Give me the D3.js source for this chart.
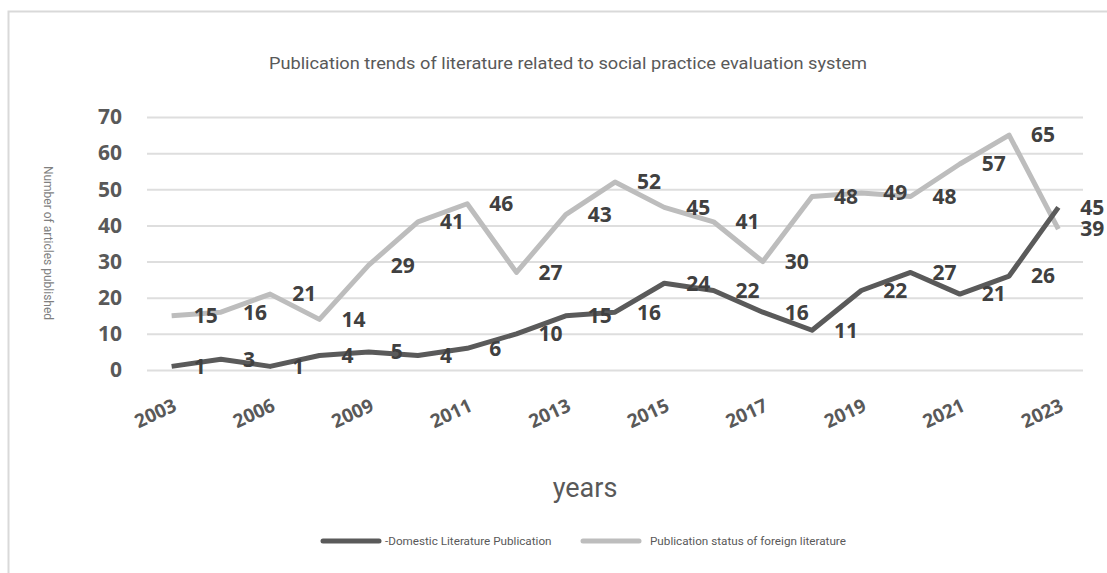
<!DOCTYPE html>
<html>
<head>
<meta charset="utf-8">
<script src="https://cdn.jsdelivr.net/npm/d3@7"></script>
<style>
  body { margin: 0; background: #fff; }
  svg { display: block; }
</style>
</head>
<body>
<svg class="svg-canvas" width="1107" height="573"></svg>
<script>
var years = ["2003", "2004", "2006", "2007", "2009", "2010", "2011", "2012", "2013", "2014",
  "2015", "2016", "2017", "2018", "2019", "2020", "2021", "2022", "2023"];
var domestic = [1, 3, 1, 4, 5, 4, 6, 10, 15, 16, 24, 22, 16, 11, 22, 27, 21, 26, 45];
var foreign = [15, 16, 21, 14, 29, 41, 46, 27, 43, 52, 45, 41, 30, 48, 49, 48, 57, 65, 39];
var yTicks = [0, 10, 20, 30, 40, 50, 60, 70];
var shownYears = ["2003", "2006", "2009", "2011", "2013", "2015", "2017", "2019", "2021", "2023"];

var series = [
  { name: "Publication status of foreign literature", values: foreign, color: "#bdbdbd" },
  { name: "-Domestic Literature Publication", values: domestic, color: "#5a5a5a" }
];

var svg = d3.select(".svg-canvas");
var width = parseInt(svg.attr("width"));
var height = parseInt(svg.attr("height"));

// chart frame
svg.append("rect")
  .attr("x", 8.5).attr("y", 11.5)
  .attr("width", width + 10).attr("height", height + 10)
  .attr("fill", "none").attr("stroke", "#d9d9d9").attr("stroke-width", 2);

var x = d3.scalePoint().domain(years).range([147, 1083]).padding(0.5);
var y = d3.scaleLinear().domain([0, 70]).range([370, 117]);

svg.append("text")
  .attr("x", 568).attr("y", 69)
  .attr("text-anchor", "middle")
  .attr("textLength", 598).attr("lengthAdjust", "spacingAndGlyphs")
  .style("font-family", "Roboto, sans-serif").style("font-size", "16px")
  .attr("fill", "#595959")
  .text("Publication trends of literature related to social practice evaluation system");

// gridlines + y labels
var yAxis = d3.axisLeft(y).tickValues(yTicks).tickSize(-(1083 - 147)).tickPadding(25);
var gy = svg.append("g").attr("transform", "translate(147,0)").call(yAxis);
gy.select(".domain").remove();
gy.selectAll(".tick line").attr("stroke", "#dedede").attr("stroke-width", 2);
gy.selectAll(".tick text")
  .style("font-family", "'Open Sans', sans-serif").style("font-size", "21px").style("font-weight", "bold")
  .attr("fill", "#595959");

// x labels, every other year
var xAxis = d3.axisBottom(x).tickValues(shownYears).tickSize(0);
var gx = svg.append("g").attr("transform", "translate(0,370)").call(xAxis);
gx.select(".domain").remove();
gx.selectAll(".tick text")
  .attr("x", null).attr("y", null)
  .attr("dy", "0.35em")
  .attr("text-anchor", "end")
  .attr("transform", "translate(3,34) rotate(-25)")
  .style("font-family", "'Open Sans', sans-serif").style("font-size", "19px").style("font-weight", "bold")
  .attr("fill", "#595959");

var line = d3.line()
  .x(function(d, i) { return x(years[i]); })
  .y(function(d) { return y(d); });

svg.selectAll("path.series")
  .data(series).enter()
  .append("path")
  .attr("class", "series")
  .attr("d", function(s) { return line(s.values); })
  .attr("fill", "none")
  .attr("stroke", function(s) { return s.color; })
  .attr("stroke-width", 5)
  .attr("stroke-linejoin", "round");

series.forEach(function(s) {
  svg.append("g").selectAll("text")
    .data(s.values).enter()
    .append("text")
    .attr("x", function(d, i) { return x(years[i]) + 22; })
    .attr("y", function(d) { return y(d); })
    .attr("dy", "0.35em")
    .style("font-family", "'Open Sans', sans-serif").style("font-size", "21px").style("font-weight", "bold")
    .attr("fill", "#404040")
    .text(function(d) { return d; });
});

// axis titles
svg.append("text")
  .attr("transform", "translate(44,243) rotate(90)")
  .attr("text-anchor", "middle")
  .style("font-family", "Roboto, sans-serif").style("font-size", "12px")
  .attr("fill", "#7f7f7f")
  .text("Number of articles published");

svg.append("text")
  .attr("x", 585).attr("y", 497)
  .attr("text-anchor", "middle")
  .style("font-family", "Roboto, sans-serif").style("font-size", "27px")
  .attr("fill", "#595959")
  .text("years");

// legend
var legendX = [323, 583];
var legendText = [series[1], series[0]];
legendText.forEach(function(s, i) {
  var g = svg.append("g").attr("transform", "translate(" + legendX[i] + ",541)");
  g.append("line")
    .attr("x1", 0).attr("x2", 56).attr("y1", 0).attr("y2", 0)
    .attr("stroke", s.color).attr("stroke-width", 5).attr("stroke-linecap", "round");
  g.append("text")
    .attr("x", i === 0 ? 62 : 67).attr("y", 0).attr("dy", "0.35em")
    .style("font-family", "Roboto, sans-serif").style("font-size", "11.7px")
    .attr("fill", "#595959")
    .text(s.name);
});
</script>
</body>
</html>
